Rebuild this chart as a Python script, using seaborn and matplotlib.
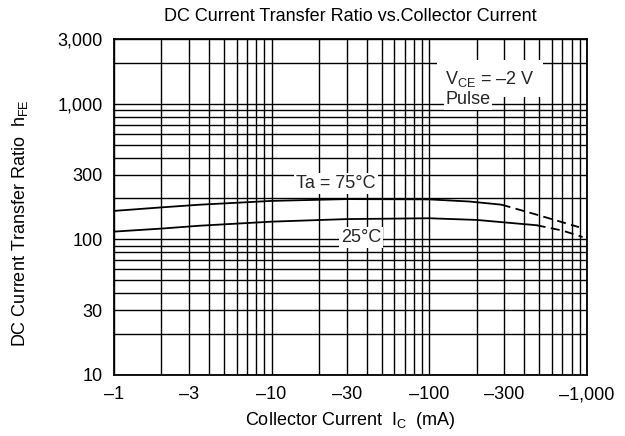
import numpy as np
import pandas as pd
import seaborn as sns
import matplotlib.pyplot as plt
from matplotlib.ticker import LogLocator, FixedLocator, FixedFormatter, NullFormatter

# data (collector current in mA, magnitude)
ic_75 = [1, 2, 3.5, 10, 30, 100, 180, 288]
hfe_75 = [162, 172, 180, 192, 198, 197, 190, 180]
ic_75_dash = [288, 480, 890]
hfe_75_dash = [180, 152, 123]

ic_25 = [1, 2, 3.5, 10, 30, 100, 200, 480]
hfe_25 = [114, 120, 126, 135, 141, 143, 139, 127]
ic_25_dash = [480, 700, 940]
hfe_25_dash = [127, 116, 104]

x_ticks = [1, 3, 10, 30, 100, 300, 1000]
x_labels = ['\u20131', '\u20133', '\u201310', '\u201330', '\u2013100', '\u2013300', '\u20131,000']
y_ticks = [10, 30, 100, 300, 1000, 3000]
y_labels = ['10', '30', '100', '300', '1,000', '3,000']

sns.set_theme(style='white')
plt.rcParams['font.family'] = ['Liberation Sans', 'DejaVu Sans']
plt.rcParams['mathtext.fontset'] = 'custom'
plt.rcParams['mathtext.rm'] = 'Liberation Sans'

fs = 13

fig = plt.figure(figsize=(6.25, 4.36), dpi=100)
ax = fig.add_axes([0.1824, 0.14, 0.7566, 0.7706])

solid = pd.concat([
    pd.DataFrame({'ic': ic_75, 'hfe': hfe_75, 'curve': '75'}),
    pd.DataFrame({'ic': ic_25, 'hfe': hfe_25, 'curve': '25'}),
])
dashed = pd.concat([
    pd.DataFrame({'ic': ic_75_dash, 'hfe': hfe_75_dash, 'curve': '75'}),
    pd.DataFrame({'ic': ic_25_dash, 'hfe': hfe_25_dash, 'curve': '25'}),
])

sns.lineplot(data=solid, x='ic', y='hfe', units='curve', estimator=None,
             color='black', lw=1.3, ax=ax, zorder=3)
sns.lineplot(data=dashed, x='ic', y='hfe', units='curve', estimator=None,
             color='black', lw=1.3, ax=ax, zorder=3, linestyle=(0, (5, 3)))

ax.set_xscale('log')
ax.set_yscale('log')
ax.set_xlim(1, 1000)
ax.set_ylim(10, 3000)

ax.xaxis.set_major_locator(FixedLocator(x_ticks))
ax.xaxis.set_major_formatter(FixedFormatter(x_labels))
ax.yaxis.set_major_locator(FixedLocator(y_ticks))
ax.yaxis.set_major_formatter(FixedFormatter(y_labels))
ax.xaxis.set_minor_locator(LogLocator(base=10, subs=np.arange(1, 10)))
ax.yaxis.set_minor_locator(LogLocator(base=10, subs=np.arange(1, 10)))
ax.xaxis.set_minor_formatter(NullFormatter())
ax.yaxis.set_minor_formatter(NullFormatter())

ax.grid(which='both', color='black', lw=1.0)
ax.tick_params(which='both', length=0, labelsize=fs, colors='black')
ax.tick_params(axis='x', pad=8)
ax.tick_params(axis='y', pad=8)
for s in ax.spines.values():
    s.set_color('black')
    s.set_linewidth(1.3)

ax.set_title('DC Current Transfer Ratio vs.Collector Current', fontsize=fs, pad=13,
             color='black')
ax.set_xlabel('Collector Current  I$_{\\rm C}$  (mA)', fontsize=fs, color='black')
ax.set_ylabel('DC Current Transfer Ratio  h$_{\\rm FE}$', fontsize=fs, color='black')
ax.xaxis.set_label_coords(0.5, -0.105)
ax.yaxis.set_label_coords(-0.178, 0.452)

box = dict(facecolor='white', edgecolor='none', pad=1.5)
ax.text(25.6, 259, 'Ta = 75\u00b0C', fontsize=fs, ha='center', va='center', bbox=box, zorder=4)
ax.text(36.8, 103, '25\u00b0C', fontsize=fs, ha='center', va='center', bbox=box, zorder=4)
ax.text(126, 1530, 'V$_{\\rm CE}$ = \u20132 V', fontsize=fs, ha='left', va='center',
        bbox=dict(facecolor='white', edgecolor='none', pad=6), zorder=4)
ax.text(126, 1070, 'Pulse', fontsize=fs, ha='left', va='center',
        bbox=dict(facecolor='white', edgecolor='none', pad=1), zorder=4)

plt.savefig('out.png', dpi=100)
